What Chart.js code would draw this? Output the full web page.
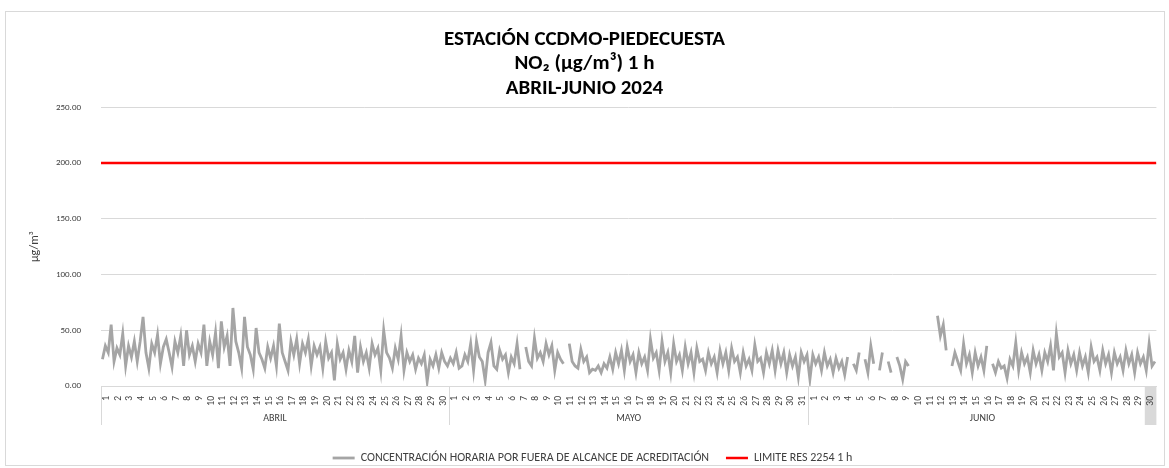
<!DOCTYPE html>
<html>
<head>
<meta charset="utf-8">
<script src="https://cdn.jsdelivr.net/npm/chart.js@4/dist/chart.umd.min.js"></script>
<style>
  html, body { margin: 0; padding: 0; background: #fff; }
  #marco {
    position: absolute; left: 5px; top: 11px;
    width: 1160px; height: 455px;
    box-sizing: border-box; border: 1px solid #d9d9d9;
  }
  #grafico { display: block; }
</style>
</head>
<body>
<div id="marco"><canvas id="grafico" width="1158" height="453"></canvas></div>
<script>
// Months and days on the x axis
const meses = ["ABRIL", "MAYO", "JUNIO"];
const diasPorMes = [30, 31, 30];
const yTicks = [0, 50, 100, 150, 200, 250];
const limite = 200; // LIMITE RES 2254 1 h

// NO2 concentration, 4 readings per day (about every 6 h), ug/m3
const abril = [
  24, 36, 30, 55,  22, 34, 28, 47,  18, 36, 26, 40,  22, 40, 62, 30,  16, 38, 30, 46,
  20, 35, 42, 30,  17, 40, 30, 45,  18, 50, 28, 36,  22, 38, 30, 55,  18, 40, 28, 48,
  16, 58, 35, 45,  18, 70, 40, 30,  16, 62, 35, 28,  15, 52, 30, 24,  16, 35, 25, 36,
  18, 56, 30, 22,  14, 40, 28, 42,  20, 38, 30, 42,  18, 36, 28, 35,  16, 40, 25, 30,
   5, 38, 24, 30,  15, 32, 22, 45,  12, 35, 22, 30,  16, 38, 28, 34,  14, 50, 30, 25,
  16, 34, 24, 45,  14, 30, 22, 28,  15, 25, 20, 28,   4, 24, 18, 28,  16, 30, 22, 18
];
const mayo = [
  25, 20, 30, 16,  18, 28, 22, 38,  14, 40, 26, 22,   5, 30, 39, 18,  15, 32, 24, 28,
  12, 26, 20, 38,  15, null, 35, 22,  18, 43, 25, 30,  22, 38, 28, 36,  14, 30, 24, 20,
  null, 38, 22, 18,  16, 33, 22, 26,  12, 15, 14, 18,  12, 20, 16, 26,  15, 30, 20, 32,
  14, 35, 22, 28,  12, 30, 20, 26,  14, 42, 25, 30,  14, 40, 22, 30,  12, 38, 22, 28,
  14, 35, 20, 30,  12, 34, 22, 24,  14, 30, 20, 26,  12, 32, 20, 30,  14, 34, 22, 26,
  12, 30, 18, 24,  14, 37, 22, 25,  12, 30, 20, 32,  14, 32, 20, 30,  12, 28, 18, 26,
   8, 30, 22, 28
];
const junio = [
   6, 28, 20, 26,  14, 30, 18, 24,  12, 25, 16, 22,  10, 26, null, 20,  14, 30, null, 24,
  12, 36, 20, null,  14, 30, null, 22,  12, null, 26, 18,  6, 22, 18, null,  null, null, null, null,
  null, null, null, null,  63, 45, 55, 32,  null, 18, 30, 22,  14, 38, 20, 28,  12, 30, 18, 26,
  14, 36, null, 20,  12, 22, 16, 18,   7, 24, 18, 39,  14, 30, 20, 26,  12, 32, 20, 28,
  14, 30, 22, 36,  14, 47, 26, 30,  12, 32, 20, 28,  14, 30, 18, 26,  12, 35, 22, 26,
  14, 32, 20, 28,  12, 30, 20, 26,  14, 32, 20, 28,  12, 30, 20, 26,  14, 38, 18, 22
];

const lecturasPorDia = 4;
const totalDias = diasPorMes.reduce((a, b) => a + b, 0);

// day labels 1..n for every month
const etiquetasDias = [];
diasPorMes.forEach((n) => {
  for (let d = 1; d <= n; d++) etiquetasDias.push(String(d));
});

// build x/y points: x is measured in days from 1 April
const puntos = [];
[abril, mayo, junio].forEach((serie, m) => {
  const inicio = diasPorMes.slice(0, m).reduce((a, b) => a + b, 0);
  serie.forEach((v, i) => {
    puntos.push({ x: inicio + (i + 0.5) / lecturasPorDia, y: v });
  });
});

const fuente = "Carlito, Calibri, Lato, 'Liberation Sans', sans-serif";

// month names, separators and the grey cell under the last day
const mesesPlugin = {
  id: "meses",
  beforeDraw(chart) {
    const { ctx, chartArea, scales } = chart;
    const x = scales.x;
    const x0 = x.getPixelForValue(totalDias - 1);
    const x1 = x.getPixelForValue(totalDias);
    ctx.save();
    ctx.fillStyle = "#d9d9d9";
    ctx.fillRect(x0, chartArea.bottom, x1 - x0, 39);
    ctx.restore();
    // legend sits a little right of centre in the original
    if (chart.legend && !chart.legend._movido) {
      chart.legend.left += 8;
      chart.legend.right += 8;
      chart.legend._movido = true;
    }
  },
  afterDraw(chart) {
    const { ctx, chartArea, scales } = chart;
    const x = scales.x;
    ctx.save();
    ctx.strokeStyle = "#d9d9d9";
    ctx.lineWidth = 1;
    ctx.fillStyle = "#404040";
    ctx.font = "10px " + fuente;
    ctx.textAlign = "center";
    ctx.textBaseline = "middle";
    let inicio = 0;
    diasPorMes.forEach((n, m) => {
      const px = Math.round(x.getPixelForValue(inicio)) + 0.5;
      ctx.beginPath();
      ctx.moveTo(px, chartArea.bottom);
      ctx.lineTo(px, chartArea.bottom + 39);
      ctx.stroke();
      const mid = x.getPixelForValue(inicio + n / 2);
      ctx.fillText(meses[m], mid, chartArea.bottom + 32);
      inicio += n;
    });
    const pxFin = Math.round(x.getPixelForValue(inicio)) - 0.5;
    ctx.beginPath();
    ctx.moveTo(pxFin, chartArea.bottom);
    ctx.lineTo(pxFin, chartArea.bottom + 39);
    ctx.stroke();
    ctx.restore();
  }
};

new Chart(document.getElementById("grafico"), {
  type: "line",
  data: {
    datasets: [
      {
        label: "CONCENTRACIÓN HORARIA POR FUERA DE ALCANCE DE ACREDITACIÓN",
        data: puntos,
        borderColor: "#a5a5a5",
        backgroundColor: "#a5a5a5",
        borderWidth: 2.8,
        pointRadius: 0,
        tension: 0,
        spanGaps: false,
      },
      {
        label: "LIMITE RES 2254 1 h",
        data: [{ x: 0, y: limite }, { x: totalDias, y: limite }],
        borderColor: "#ff0000",
        backgroundColor: "#ff0000",
        borderWidth: 2.5,
        pointRadius: 0,
      },
    ],
  },
  options: {
    responsive: false,
    animation: false,
    layout: { padding: { left: 0, right: 1, top: 0, bottom: -9 } },
    plugins: {
      title: {
        display: true,
        text: ["ESTACIÓN CCDMO-PIEDECUESTA", "NO₂ (µg/m³) 1 h", "ABRIL-JUNIO 2024"],
        color: "#000",
        font: { family: fuente, size: 21, weight: "bold", lineHeight: 1.18 },
        padding: { top: 15, bottom: 6 },
      },
      legend: {
        position: "bottom",
        labels: {
          usePointStyle: true,
          pointStyle: "line",
          pointStyleWidth: 22,
          color: "#404040",
          font: { family: fuente, size: 12 },
          padding: 6,
          // a bit more room between the two entries
          generateLabels: (chart) => {
            const items = Chart.defaults.plugins.legend.labels.generateLabels(chart);
            items[0].text = items[0].text + "    ";
            return items;
          },
        },
      },
      tooltip: { enabled: false },
    },
    scales: {
      x: {
        type: "linear",
        min: 0,
        max: totalDias,
        afterBuildTicks: (s) => {
          s.ticks = etiquetasDias.map((_, i) => ({ value: i + 0.5 }));
        },
        afterFit: (s) => { s.height = 60; },
        ticks: {
          autoSkip: false,
          minRotation: 90,
          maxRotation: 90,
          padding: 2,
          color: "#404040",
          font: { family: fuente, size: 9.5 },
          callback: (v, i) => etiquetasDias[i],
        },
        grid: { display: false },
        border: { color: "#d9d9d9" },
      },
      y: {
        min: 0,
        max: 250,
        afterBuildTicks: (s) => {
          s.ticks = yTicks.map((v) => ({ value: v }));
        },
        afterFit: (s) => { s.width = 95; },
        ticks: {
          padding: 20,
          color: "#404040",
          font: { family: fuente, size: 9 },
          callback: (v) => v.toFixed(2),
        },
        grid: { color: "#d9d9d9", drawTicks: false },
        border: { display: false },
        title: {
          display: true,
          text: "µg/m³",
          color: "#404040",
          font: { family: fuente, size: 12 },
          padding: { top: 22, bottom: 0 },
        },
      },
    },
  },
  plugins: [mesesPlugin],
});
</script>
</body>
</html>
